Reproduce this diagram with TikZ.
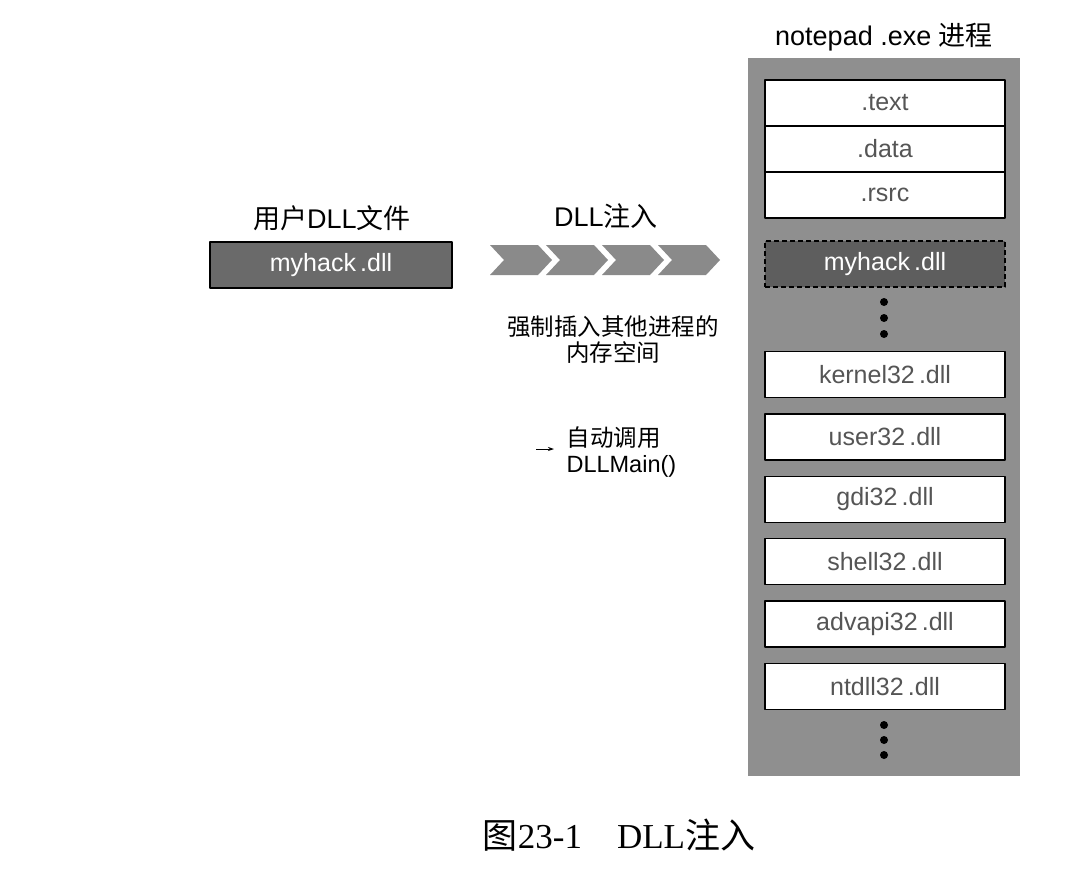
\documentclass[tikz,border=0pt]{standalone}
\usepackage{fontspec}
\usetikzlibrary{arrows.meta}
\setmainfont{Liberation Sans}
\newfontfamily\cjk{Noto Sans CJK SC}
\newfontfamily\capfont{Liberation Serif}
\definecolor{procgray}{HTML}{8F8F8F}
\definecolor{filegray}{HTML}{6A6A6A}
\definecolor{injgray}{HTML}{5E5E5E}
\definecolor{chevgray}{HTML}{8A8A8A}
\definecolor{labgray}{HTML}{555555}
\begin{document}
\begin{tikzpicture}[x=1pt,y=-1pt,line join=round,>={Stealth[length=6pt,width=4pt]},
  boxfont/.style={font=\fontsize{25}{28}\selectfont},
  notefont/.style={font=\fontsize{23.5}{26}\selectfont},
  headfont/.style={font=\fontsize{27}{30}\selectfont},
  secbox/.style={boxfont,draw=black,line width=1.4pt,fill=white,text=labgray,minimum width=240pt,minimum height=46pt,inner sep=0pt},
  darkbox/.style={boxfont,line width=1.4pt,text=white,inner sep=0pt,minimum height=46pt}]
\useasboundingbox (0,0) rectangle (1083,870);
% left: the user's dll file
\node[headfont] (filelab) at (332,218) {{\cjk 用户}DLL{\cjk 文件}};
\node[darkbox,draw=black,fill=filegray,minimum width=242pt] (file) at (331,265) {myhack\,.dll};
% injection chevrons
\node[headfont] (injlab) at (606,216) {DLL{\cjk 注入}};
\foreach \i in {0,...,3}
\fill[chevgray,shift={(490+56*\i,0)}] (0,245)--(48,245)--(62,260)--(48,275)--(0,275)--(14,260)--cycle;
\node[notefont,align=center] (force) at (613,340) {\cjk 强制插入其他进程的\\\cjk 内存空间};
\coordinate (calltail) at (536,449);
\node[notefont,align=left,anchor=west] (call) at (563,452) {{\cjk 自动调用}\\DLLMain()};
\draw[->,line width=0.8pt,shorten >=9pt] (calltail) -- (calltail -| call.west);
% notepad.exe process memory
\node[headfont] (proclab) at (884,37) {notepad .exe {\cjk 进程}};
\node[fill=procgray,minimum width=272pt,minimum height=718pt,inner sep=0pt] (proc) at (884,417) {};
\node[secbox] (text) at (885,103) {.text};
\node[secbox] (data) at (885,149) {.data};
\node[secbox] (rsrc) at (885,195) {.rsrc};
\node[darkbox,draw=black,dash pattern=on 5pt off 3pt,fill=injgray,minimum width=240pt] (inj) at (885,264) {myhack\,.dll};
\foreach \y in {302,318,334,725,740,755}
\fill (884,\y) circle (4);
\foreach \n [count=\i from 0] in {kernel32,user32,gdi32,shell32,advapi32,ntdll32}
\node[secbox] (dll\i) at (885,374.5+62.4*\i) {\n\,.dll};
% caption
\node[font=\fontsize{35}{38}\selectfont] (caption) at (619,835) {{\cjk 图}{\capfont 23-1\quad DLL}{\cjk 注入}};
\end{tikzpicture}
\end{document}
